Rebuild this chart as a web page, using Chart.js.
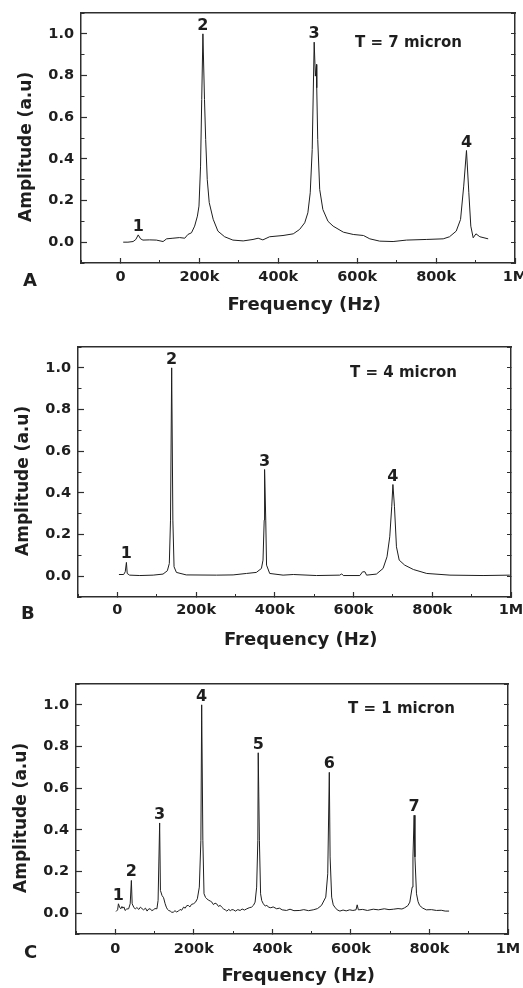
<!DOCTYPE html>
<html>
<head>
<meta charset="utf-8">
<script src="https://cdn.jsdelivr.net/npm/chart.js@4.4.1/dist/chart.umd.min.js"></script>
<style>
  body { margin: 0; background: #fff; }
  #page { position: relative; width: 523px; height: 988px; overflow: hidden; }
  canvas { position: absolute; left: 0; }
  .tag, .note {
    position: absolute; white-space: nowrap; line-height: 1;
    font-family: "DejaVu Sans", "Liberation Sans", sans-serif; font-weight: bold; color: #1e1e1e;
  }
  .tag { font-size: 18px; }
  .note { font-size: 15px; }
</style>
</head>
<body>
<div id="page">
  <canvas id="chartA" width="523" height="322" style="top:0px"></canvas>
  <canvas id="chartB" width="523" height="333" style="top:322px"></canvas>
  <canvas id="chartC" width="523" height="333" style="top:655px"></canvas>
  <div class="tag" style="left:23px;top:271px">A</div>
  <div class="tag" style="left:21px;top:604px">B</div>
  <div class="tag" style="left:24px;top:943px">C</div>
  <div class="note" style="left:355px;top:35px">T = 7 micron</div>
  <div class="note" style="left:350px;top:365px">T = 4 micron</div>
  <div class="note" style="left:348px;top:701px">T = 1 micron</div>
</div>
<script>
// frequency in kHz, amplitude in a.u.
const freqA = [7, 19, 32, 39, 45, 51, 57, 74, 91, 108, 117, 133, 150, 163, 171, 180, 188, 195, 199, 203,
  206, 209, 213, 216, 220, 225, 235, 247, 264, 285, 311, 336, 349, 361, 378, 412, 438, 454, 467, 475,
  481, 486, 491, 494, 497, 497.5, 500, 505, 513, 526, 539, 565, 590, 616, 632, 657, 691, 725, 775, 818,
  834, 851, 862, 870, 877, 883, 888, 894, 901, 911, 932];
const ampA = [0.0, 0.0, 0.003, 0.013, 0.035, 0.016, 0.01, 0.011, 0.01, 0.003, 0.016, 0.019, 0.022, 0.019, 0.037, 0.045, 0.077, 0.125, 0.173, 0.365,
  0.685, 1.0, 0.685, 0.493, 0.3, 0.19, 0.11, 0.053, 0.026, 0.01, 0.006, 0.013, 0.019, 0.011, 0.026, 0.032, 0.04, 0.061, 0.093, 0.141,
  0.237, 0.445, 0.96, 0.797, 0.853, 0.741, 0.493, 0.253, 0.157, 0.1, 0.077, 0.048, 0.037, 0.032, 0.016, 0.005, 0.003, 0.01, 0.013, 0.016,
  0.026, 0.053, 0.109, 0.269, 0.44, 0.237, 0.077, 0.021, 0.04, 0.026, 0.016];

const freqB = [4, 16, 20, 23, 25, 31, 57, 91, 116, 127, 132, 135, 138, 141, 144, 150, 175, 252, 294, 328,
  353, 366, 370, 373, 374, 377, 379, 387, 421, 447, 506, 565, 570, 574, 616, 623, 629, 633, 658, 675,
  685, 692, 697, 700, 704, 709, 716, 730, 752, 786, 845, 929, 997];
const ampB = [0.008, 0.008, 0.021, 0.066, 0.013, 0.005, 0.003, 0.005, 0.01, 0.026, 0.061, 0.269, 1.0, 0.269, 0.045, 0.018, 0.006, 0.005, 0.006, 0.013,
  0.018, 0.037, 0.077, 0.269, 0.512, 0.269, 0.053, 0.013, 0.005, 0.008, 0.003, 0.005, 0.011, 0.003, 0.003, 0.021, 0.021, 0.005, 0.01, 0.037,
  0.093, 0.189, 0.333, 0.44, 0.333, 0.141, 0.077, 0.053, 0.032, 0.013, 0.005, 0.003, 0.005];

const freqC = [2, 6, 8, 11, 14, 17, 19, 22, 25, 29,
  34, 38, 41, 43, 47, 51, 55, 60, 64, 68,
  72, 77, 81, 85, 89, 93, 97, 101, 106, 109,
  113, 115, 119, 123, 127, 130, 133, 136, 140, 144,
  148, 152, 156, 161, 165, 169, 174, 178, 182, 186,
  190, 194, 199, 204, 209, 214, 218, 220, 223, 226,
  230, 233, 238, 242, 246, 250, 254, 258, 263, 267,
  271, 276, 280, 284, 289, 293, 297, 301, 306, 312,
  318, 323, 329, 335, 341, 347, 352, 356, 360, 363,
  364, 367, 370, 373, 377, 382, 386, 390, 396, 402,
  411, 418, 425, 436, 445, 455, 470, 480, 492, 504,
  515, 525, 536, 541, 545, 547, 551, 555, 559, 565,
  572, 580, 588, 597, 605, 613, 616, 619, 630, 642,
  657, 670, 685, 697, 708, 720, 730, 737, 745, 750,
  756, 758, 761, 763, 767, 771, 775, 783, 792, 805,
  818, 830, 840, 850];
const ampC = [0.008, 0.016, 0.045, 0.029, 0.021, 0.032, 0.024, 0.03, 0.013, 0.02,
  0.021, 0.045, 0.157, 0.045, 0.029, 0.02, 0.027, 0.018, 0.029, 0.022,
  0.016, 0.024, 0.01, 0.02, 0.021, 0.012, 0.016, 0.022, 0.021, 0.061,
  0.433, 0.109, 0.085, 0.074, 0.045, 0.029, 0.018, 0.013, 0.01, 0.004,
  0.005, 0.012, 0.006, 0.01, 0.018, 0.014, 0.029, 0.024, 0.036, 0.037,
  0.03, 0.042, 0.045, 0.052, 0.069, 0.125, 0.35, 1.0, 0.35, 0.093,
  0.075, 0.069, 0.062, 0.058, 0.053, 0.041, 0.048, 0.045, 0.032, 0.038,
  0.029, 0.02, 0.016, 0.01, 0.018, 0.012, 0.017, 0.016, 0.01, 0.017,
  0.013, 0.02, 0.015, 0.021, 0.026, 0.029, 0.038, 0.053, 0.125, 0.35,
  0.77, 0.35, 0.093, 0.06, 0.045, 0.034, 0.038, 0.029, 0.026, 0.03,
  0.021, 0.024, 0.016, 0.013, 0.019, 0.012, 0.013, 0.017, 0.012, 0.016,
  0.022, 0.037, 0.077, 0.189, 0.676, 0.27, 0.077, 0.04, 0.029, 0.016,
  0.01, 0.015, 0.011, 0.016, 0.013, 0.016, 0.04, 0.016, 0.018, 0.013,
  0.019, 0.016, 0.021, 0.017, 0.019, 0.022, 0.02, 0.026, 0.036, 0.053,
  0.125, 0.27, 0.47, 0.27, 0.093, 0.055, 0.037, 0.024, 0.016, 0.017,
  0.013, 0.014, 0.01, 0.01];

// numbered resonance peaks
const peakFreqA = [45, 209, 491, 877];
const peakAmpA = [0.035, 1.0, 0.96, 0.44];
const peakFreqB = [23, 138, 374, 700];
const peakAmpB = [0.066, 1.0, 0.512, 0.44];
const peakFreqC = [8, 41, 113, 220, 364, 545, 761];
const peakAmpC = [0.045, 0.157, 0.433, 1.0, 0.77, 0.676, 0.47];

const FONT = '"DejaVu Sans", "Liberation Sans", sans-serif';
const INK = '#1e1e1e';
const FRAME = '#2e2e2e';
const NB = '\u00a0';

const peakLabels = {
  id: 'peakLabels',
  afterDatasetsDraw(chart, args, opts) {
    const {ctx, scales: {x, y}} = chart;
    ctx.save();
    ctx.font = 'bold 16px ' + FONT;
    ctx.fillStyle = INK;
    ctx.textAlign = 'center';
    ctx.textBaseline = 'alphabetic';
    opts.freq.forEach((f, i) => {
      ctx.fillText(String(i + 1), x.getPixelForValue(f), y.getPixelForValue(opts.amp[i]) - 4);
    });
    ctx.restore();
  }
};

function keepMajorX(scale) {
  scale.ticks = scale.ticks.filter(t => t.value >= 0 && Math.round(t.value) % 200 === 0);
}
function keepMajorY(scale) {
  scale.ticks = scale.ticks.filter(t => t.value > -0.01 && t.value < 1.01 && Math.round(t.value * 10) % 2 === 0);
}

function makeChart(id, freq, amp, pFreq, pAmp, box) {
  const points = freq.map((f, i) => ({x: f, y: amp[i]}));
  const tickFont = {family: FONT, size: 14.5, weight: 'bold'};
  return new Chart(document.getElementById(id), {
    type: 'line',
    data: {
      datasets: [{
        data: points,
        borderColor: INK,
        borderWidth: 1,
        pointRadius: 0,
        tension: 0
      }]
    },
    options: {
      responsive: false,
      animation: false,
      events: [],
      layout: {padding: {top: box.top, right: box.right, left: 0, bottom: 0}},
      plugins: {
        legend: {display: false},
        tooltip: {enabled: false},
        peakLabels: {freq: pFreq, amp: pAmp}
      },
      scales: {
        x: {
          type: 'linear', position: 'bottom', weight: 1, min: -100, max: 1000,
          ticks: {
            stepSize: 100, autoSkip: false, maxRotation: 0, padding: box.xPad,
            color: INK, font: tickFont,
            callback: v => v === 0 ? '0' : (v === 1000 ? '1M' : v + 'k')
          },
          afterBuildTicks: keepMajorX,
          grid: {drawOnChartArea: false, tickLength: -5, tickColor: FRAME, tickWidth: 1.2},
          border: {color: FRAME, width: 1.5},
          title: {
            display: true, text: NB + NB + 'Frequency (Hz)', color: INK,
            font: {family: FONT, size: 18, weight: 'bold'},
            padding: {top: 0, bottom: box.xTitlePad}
          },
          afterFit: s => { s.height = box.xh; s.paddingLeft = 0; s.paddingRight = 0; }
        },
        xMinor: {
          type: 'linear', position: 'bottom', weight: 0, min: -100, max: 1000,
          ticks: {stepSize: 100, display: false},
          grid: {drawOnChartArea: false, tickLength: -3, tickColor: FRAME, tickWidth: 1},
          border: {display: false},
          afterFit: s => { s.height = 0; s.paddingLeft = 0; s.paddingRight = 0; }
        },
        xTop: {
          type: 'linear', position: 'top', min: -100, max: 1000,
          ticks: {display: false},
          grid: {drawOnChartArea: false, drawTicks: false},
          border: {color: FRAME, width: 1.5},
          afterFit: s => { s.height = 0; s.paddingLeft = 0; s.paddingRight = 0; }
        },
        y: {
          type: 'linear', position: 'left', weight: 1, min: -0.1, max: 1.1,
          ticks: {stepSize: 0.1, padding: 13, color: INK, font: tickFont, callback: v => v.toFixed(1)},
          afterBuildTicks: keepMajorY,
          grid: {drawOnChartArea: false, tickLength: -6, tickColor: FRAME, tickWidth: 1.2},
          border: {color: FRAME, width: 1.5},
          title: {
            display: true, text: 'Amplitude (a.u)' + NB + NB + NB, color: INK,
            font: {family: FONT, size: 17, weight: 'bold'},
            padding: {top: box.yTitlePad, bottom: 0}
          },
          afterFit: s => { s.width = box.left; s.paddingTop = 0; s.paddingBottom = 0; }
        },
        yMinor: {
          type: 'linear', position: 'left', weight: 0, min: -0.1, max: 1.1,
          ticks: {stepSize: 0.1, display: false},
          grid: {drawOnChartArea: false, tickLength: -3.5, tickColor: FRAME, tickWidth: 1},
          border: {display: false},
          afterFit: s => { s.width = 0; s.paddingTop = 0; s.paddingBottom = 0; }
        },
        yRight: {
          type: 'linear', position: 'right', min: -0.1, max: 1.1,
          ticks: {stepSize: 0.1, display: false},
          grid: {drawOnChartArea: false, tickLength: -4, tickColor: FRAME, tickWidth: 1},
          border: {color: FRAME, width: 1.5},
          afterFit: s => { s.width = 0; s.paddingTop = 0; s.paddingBottom = 0; }
        }
      }
    },
    plugins: [peakLabels]
  });
}

makeChart('chartA', freqA, ampA, peakFreqA, peakAmpA,
  {top: 13, right: 8, left: 81, xh: 59, xPad: 11, xTitlePad: 6, yTitlePad: 16});
makeChart('chartB', freqB, ampB, peakFreqB, peakAmpB,
  {top: 25, right: 12, left: 78, xh: 58, xPad: 10, xTitlePad: 4, yTitlePad: 13});
makeChart('chartC', freqC, ampC, peakFreqC, peakAmpC,
  {top: 29, right: 15, left: 76, xh: 54, xPad: 12, xTitlePad: 1, yTitlePad: 11});
</script>
</body>
</html>
